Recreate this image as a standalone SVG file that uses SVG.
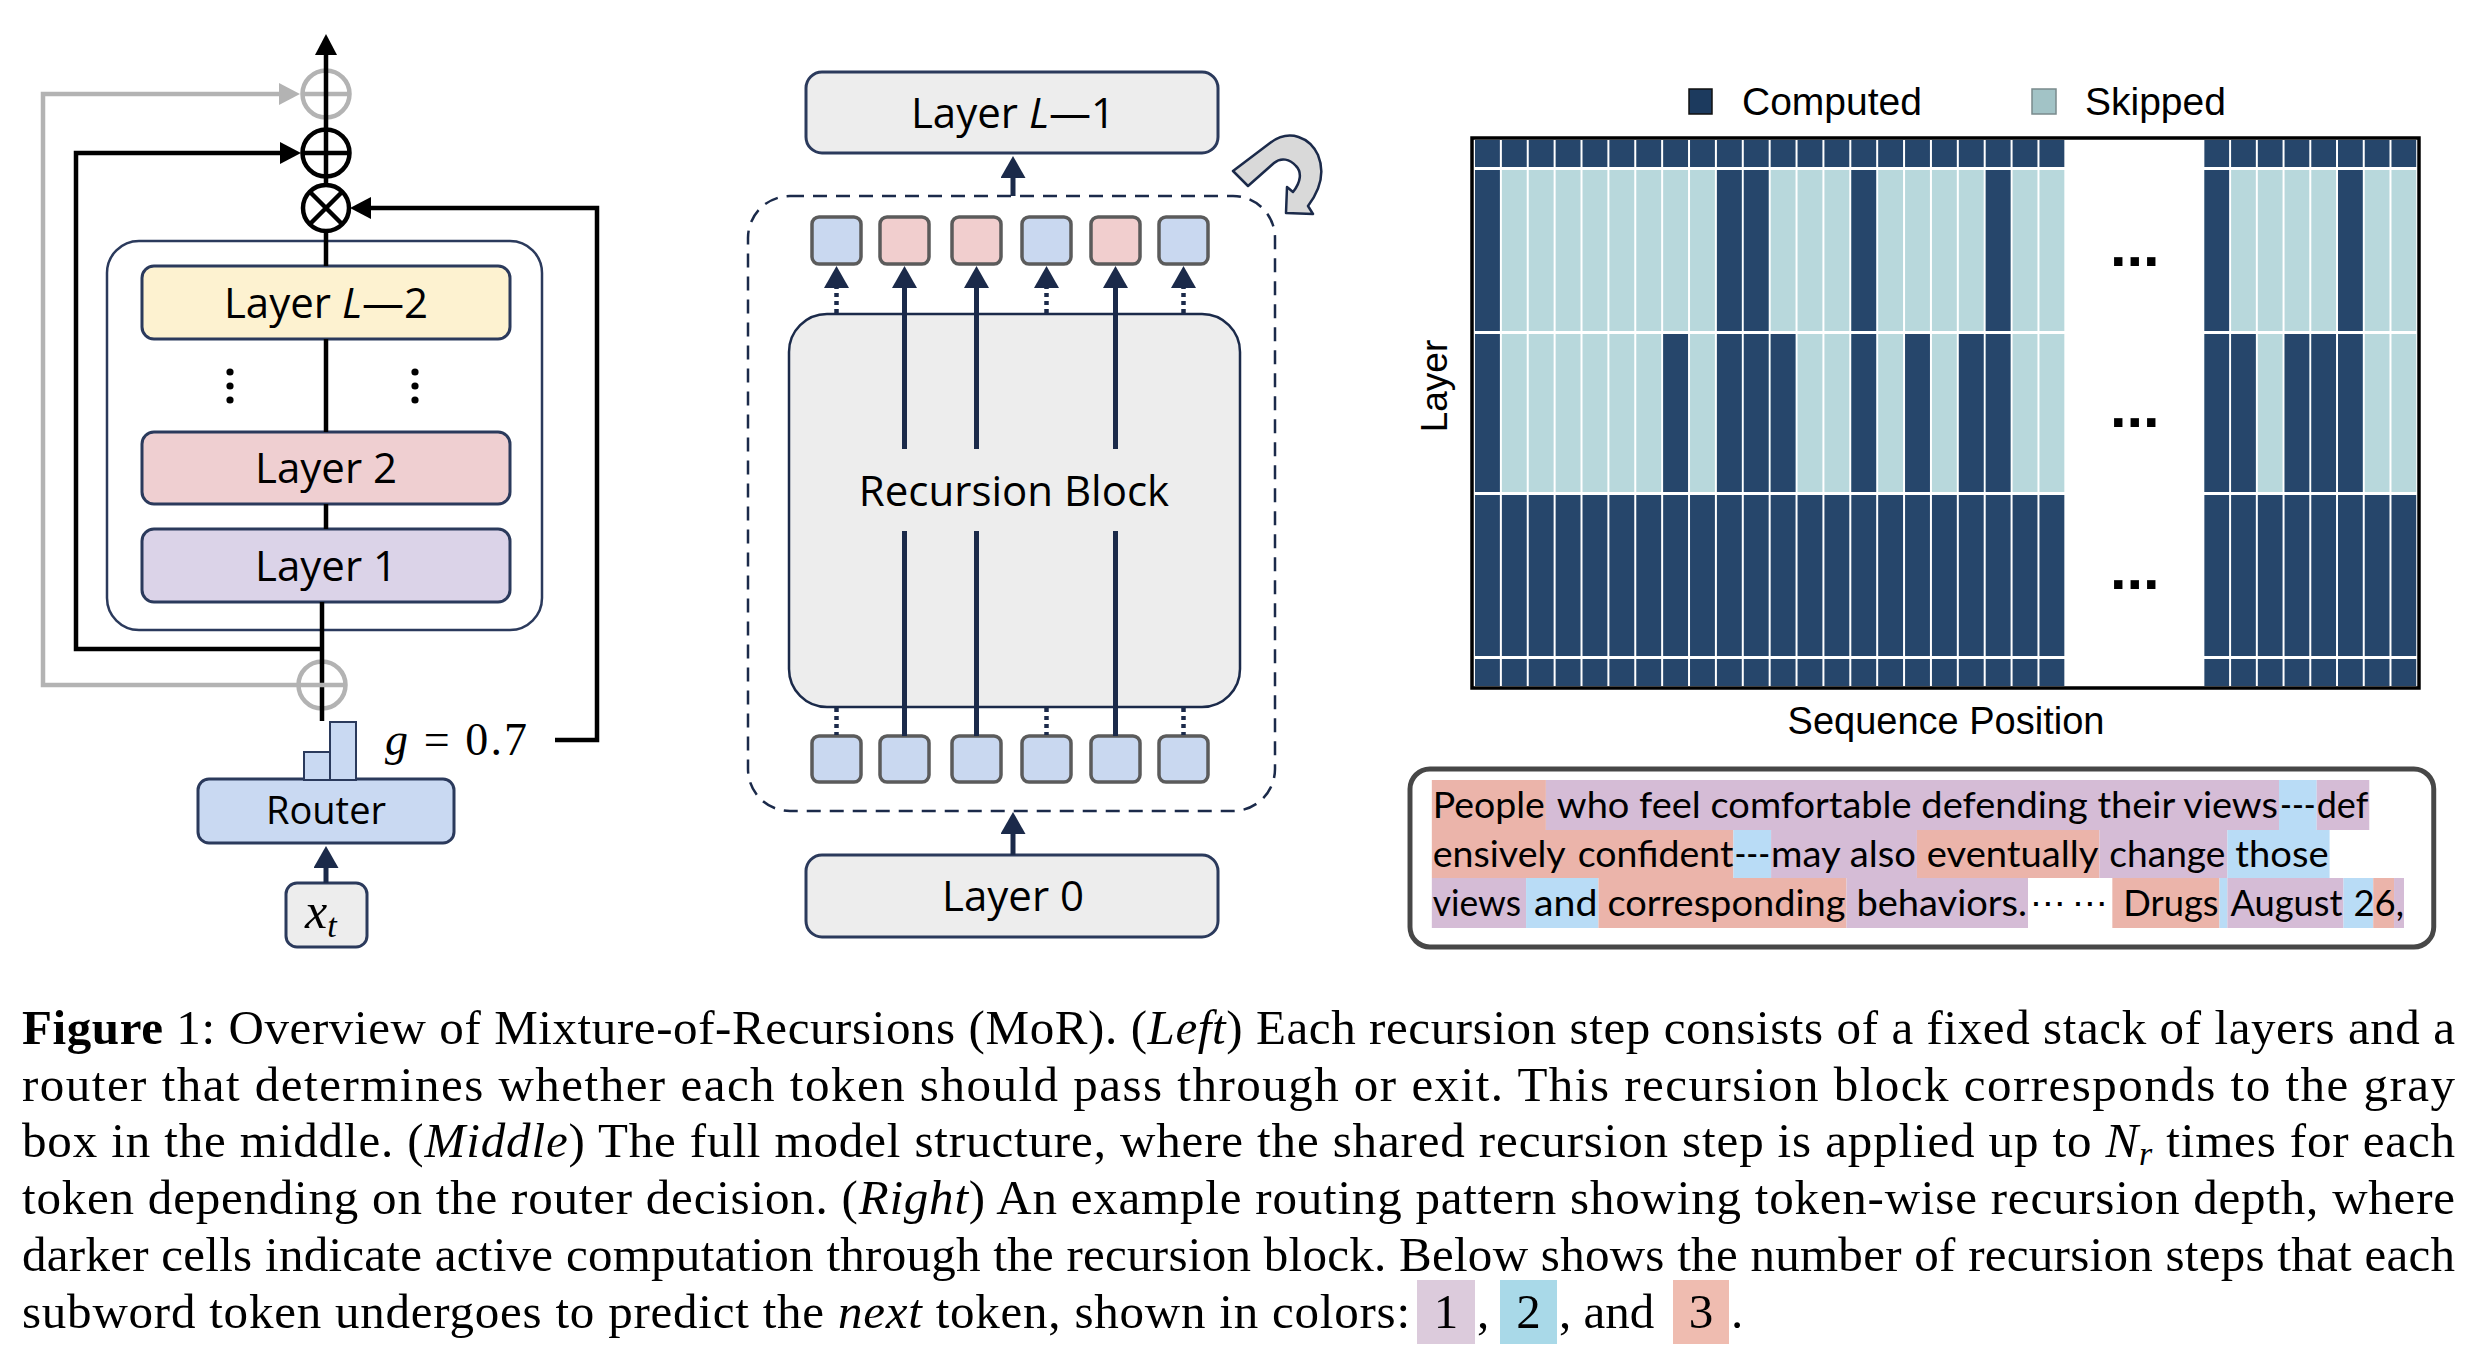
<svg xmlns="http://www.w3.org/2000/svg" width="2490" height="1372" viewBox="0 0 2490 1372">
<defs>
<style>
.lbl{font-family:"Open Sans","DejaVu Sans",sans-serif;font-size:42px;fill:#000;text-anchor:middle}
.math{font-family:"Liberation Serif","DejaVu Serif",serif;fill:#000}
.layer{stroke:#2b3a5c;stroke-width:3}
.blk{fill:none;stroke:#000;stroke-width:4.5}
.gry{fill:none;stroke:#b3b3b3;stroke-width:4.5}
.nav{fill:none;stroke:#1b2a4a;stroke-width:5}
.dot{fill:none;stroke:#1b2a4a;stroke-width:4.5;stroke-dasharray:4 4}
.tok{stroke:#5b5b5b;stroke-width:3.5}
.tb{fill:#c9d8f0}
.tp{fill:#f1cece}
.sans{font-family:"Liberation Sans",Arial,sans-serif;fill:#000}
.hp{fill:#ebb4aa}
.hv{fill:#d5bcd6}
.hb{fill:#b9dcf6}
.tx{font-family:Lato,"Open Sans",sans-serif;font-size:36px;fill:#000}
.cap{font-family:"Liberation Serif","Times New Roman",serif;font-size:49px;fill:#000}
.dk{fill:#26466b}
</style>
<marker id="mBlack" markerUnits="userSpaceOnUse" markerWidth="22" markerHeight="22" refX="9" refY="11" orient="auto"><path d="M0,0 L21,11 L0,22 Z" fill="#000"/></marker>
<marker id="mGray" markerUnits="userSpaceOnUse" markerWidth="22" markerHeight="22" refX="9" refY="11" orient="auto"><path d="M0,0 L21,11 L0,22 Z" fill="#b3b3b3"/></marker>
<marker id="mNavy" markerUnits="userSpaceOnUse" markerWidth="24" markerHeight="25" refX="10" refY="12.5" orient="auto"><path d="M0,0 L22,12.5 L0,25 Z" fill="#1b2a4a"/></marker>
<pattern id="pDL" patternUnits="userSpaceOnUse" x="1474" y="0" width="27.05" height="20"><rect x="1" y="0" width="25.05" height="20" fill="#26466b"/></pattern>
<pattern id="pLL" patternUnits="userSpaceOnUse" x="1474" y="0" width="27.05" height="20"><rect x="1" y="0" width="25.05" height="20" fill="#b8d8dc"/></pattern>
<pattern id="pDR" patternUnits="userSpaceOnUse" x="2208" y="0" width="26.9" height="20"><rect x="1" y="0" width="24.9" height="20" fill="#26466b"/></pattern>
<pattern id="pLR" patternUnits="userSpaceOnUse" x="2208" y="0" width="26.9" height="20"><rect x="1" y="0" width="24.9" height="20" fill="#b8d8dc"/></pattern>
</defs>
<rect width="2490" height="1372" fill="#fff"/>

<!-- LEFT PANEL -->
<g id="stack-frame"><rect x="107" y="241" width="435" height="389" rx="32" fill="#fff" stroke="#2b3a5c" stroke-width="2.5"/></g>
<g id="layer-L-2"><rect class="layer" x="142" y="266" width="368" height="73" rx="12" fill="#fdf2d0"/><text class="lbl" x="326" y="318">Layer <tspan font-style="italic">L</tspan>—2</text></g>
<g id="layer-dots"><circle cx="230" cy="372" r="3.6"/><circle cx="230" cy="386" r="3.6"/><circle cx="230" cy="400" r="3.6"/><circle cx="415" cy="372" r="3.6"/><circle cx="415" cy="386" r="3.6"/><circle cx="415" cy="400" r="3.6"/></g>
<g id="layer-2"><rect class="layer" x="142" y="432" width="368" height="72" rx="12" fill="#efcfd1"/><text class="lbl" x="326" y="483">Layer 2</text></g>
<g id="layer-1"><rect class="layer" x="142" y="529" width="368" height="73" rx="12" fill="#dbd3e8"/><text class="lbl" x="326" y="581">Layer 1</text></g>
<g id="router"><rect class="layer" x="198" y="779" width="256" height="64" rx="11" fill="#c9d9f2"/><text class="lbl" x="326" y="824" style="font-size:38px">Router</text></g>
<g id="gate-bars"><rect x="304" y="752" width="26" height="28" fill="#c9d9f2" stroke="#2b3a5c" stroke-width="2"/><rect x="330" y="722" width="26" height="58" fill="#c9d9f2" stroke="#2b3a5c" stroke-width="2"/></g>
<g id="gate-value"><text class="math" x="385" y="755" font-size="46" textLength="142" lengthAdjust="spacing"><tspan font-style="italic">g</tspan> = 0.7</text></g>
<g id="input-xt"><rect class="layer" x="286" y="883" width="81" height="64" rx="11" fill="#ededed"/><text class="math" x="305" y="928" font-size="50" font-style="italic">x<tspan font-size="34" dy="9">t</tspan></text></g>
<g id="add-top-gray"><circle cx="326" cy="94" r="23.5" fill="none" stroke="#b3b3b3" stroke-width="4.5"/><line x1="302" y1="94" x2="350" y2="94" stroke="#b3b3b3" stroke-width="4.5"/></g>
<g id="add-black"><circle cx="326" cy="153" r="23.5" fill="#fff" stroke="#000" stroke-width="4.5"/><line x1="302" y1="153" x2="350" y2="153" stroke="#000" stroke-width="4.5"/></g>
<g id="multiply"><circle cx="326" cy="208" r="23" fill="#fff" stroke="#000" stroke-width="4.5"/><path d="M310,192 L342,224 M342,192 L310,224" stroke="#000" stroke-width="4.5"/></g>
<g id="add-bottom-gray"><circle cx="322" cy="685" r="23.5" fill="none" stroke="#b3b3b3" stroke-width="4.5"/></g>

<!-- MIDDLE PANEL -->
<g id="layer-L-1"><rect class="layer" x="806" y="72" width="412" height="81" rx="16" fill="#ededed"/><text class="lbl" x="1013" y="128">Layer <tspan font-style="italic">L</tspan>—1</text></g>
<g id="recursion-frame"><rect x="748" y="196" width="527" height="615" rx="42" fill="none" stroke="#1b2a4a" stroke-width="2.5" stroke-dasharray="14 9"/></g>
<g id="recursion-block"><rect x="789" y="314" width="451" height="393" rx="38" fill="#ededed" stroke="#1b2a4a" stroke-width="2.5"/><text class="lbl" x="1014" y="506">Recursion Block</text></g>
<g id="layer-0"><rect class="layer" x="806" y="855" width="412" height="82" rx="16" fill="#ededed"/><text class="lbl" x="1013" y="911">Layer 0</text></g>
<g id="tokens-out">
<rect class="tok tb" x="812" y="217" width="49" height="47" rx="7"/>
<rect class="tok tp" x="880" y="217" width="49" height="47" rx="7"/>
<rect class="tok tp" x="952" y="217" width="49" height="47" rx="7"/>
<rect class="tok tb" x="1022" y="217" width="49" height="47" rx="7"/>
<rect class="tok tp" x="1091" y="217" width="49" height="47" rx="7"/>
<rect class="tok tb" x="1159" y="217" width="49" height="47" rx="7"/>
</g>
<g id="tokens-in">
<rect class="tok tb" x="812" y="736" width="49" height="46" rx="7"/>
<rect class="tok tb" x="880" y="736" width="49" height="46" rx="7"/>
<rect class="tok tb" x="952" y="736" width="49" height="46" rx="7"/>
<rect class="tok tb" x="1022" y="736" width="49" height="46" rx="7"/>
<rect class="tok tb" x="1091" y="736" width="49" height="46" rx="7"/>
<rect class="tok tb" x="1159" y="736" width="49" height="46" rx="7"/>
</g>

<!-- CONNECTORS -->
<g id="connectors">
<path class="blk" d="M326,185 V46" marker-end="url(#mBlack)"/>
<path class="blk" d="M326,231 V266 M326,339 V432 M326,504 V529"/>
<path class="blk" d="M322,602 V721"/>
<path class="blk" d="M322,649 H76 V153 H289" marker-end="url(#mBlack)"/>
<path class="gry" d="M346,685 H43 V94 H288" marker-end="url(#mGray)"/>
<path class="blk" d="M555,740 H597 V208 H362" marker-end="url(#mBlack)"/>
<path class="nav" d="M326,883 V858" stroke-width="4" marker-end="url(#mNavy)"/>
<path class="nav" d="M1013,196 V168" marker-end="url(#mNavy)"/>
<path class="nav" d="M1013,855 V824" marker-end="url(#mNavy)"/>
<path class="nav" d="M904.5,449 V278" marker-end="url(#mNavy)"/>
<path class="nav" d="M976.5,449 V278" marker-end="url(#mNavy)"/>
<path class="nav" d="M1115.5,449 V278" marker-end="url(#mNavy)"/>
<path class="nav" d="M904.5,736 V531 M976.5,736 V531 M1115.5,736 V531"/>
<path class="dot" d="M836.5,313 V278" marker-end="url(#mNavy)"/>
<path class="dot" d="M1046.5,313 V278" marker-end="url(#mNavy)"/>
<path class="dot" d="M1183.5,313 V278" marker-end="url(#mNavy)"/>
<path class="dot" d="M836.5,708 V735 M1046.5,708 V735 M1183.5,708 V735"/>
<path d="M1233,171 L1270,143 C1290,128 1310,138 1318,155 C1325,172 1320,190 1308,206 L1313,214 L1286,213 L1287,187 L1293,192 C1301,182 1302,172 1296,166 C1290,159 1281,157 1274,163 L1248,186 Z" fill="#d9d9d9" stroke="#1b2a4a" stroke-width="2.5" stroke-linejoin="round"/>
</g>

<!-- RIGHT PANEL -->
<g id="legend">
<rect x="1689" y="89" width="23" height="25" fill="#1c3a5e" stroke="#111" stroke-width="1.5"/>
<text class="sans" x="1742" y="115" font-size="39">Computed</text>
<rect x="2032" y="89" width="24" height="25" fill="#a2c3c6" stroke="#7a8a8c" stroke-width="1.5"/>
<text class="sans" x="2085" y="115" font-size="39">Skipped</text>
</g>
<g id="grid" transform="translate(1472,0) scale(0.9937,1) translate(-1472,0)">
<rect x="1472" y="138" width="953" height="550" fill="#fff" stroke="#000" stroke-width="3.5"/>
<rect x="1474" y="140" width="595" height="27" fill="url(#pDL)"/>
<rect x="1474" y="170" width="595" height="161" fill="url(#pLL)"/>
<rect x="1474" y="334" width="595" height="158" fill="url(#pLL)"/>
<rect x="1474" y="495" width="595" height="161" fill="url(#pDL)"/>
<rect x="1474" y="659" width="595" height="27" fill="url(#pDL)"/>
<rect x="2208" y="140" width="215" height="27" fill="url(#pDR)"/>
<rect x="2208" y="170" width="215" height="161" fill="url(#pLR)"/>
<rect x="2208" y="334" width="215" height="158" fill="url(#pLR)"/>
<rect x="2208" y="495" width="215" height="161" fill="url(#pDR)"/>
<rect x="2208" y="659" width="215" height="27" fill="url(#pDR)"/>
<g class="dk">
<rect x="1475" y="170" width="25.05" height="161"/>
<rect x="1718.45" y="170" width="25.05" height="161"/>
<rect x="1745.5" y="170" width="25.05" height="161"/>
<rect x="1853.7" y="170" width="25.05" height="161"/>
<rect x="1988.95" y="170" width="25.05" height="161"/>
<rect x="2209" y="170" width="24.9" height="161"/>
<rect x="2343.5" y="170" width="24.9" height="161"/>
<rect x="1475" y="334" width="25.05" height="158"/>
<rect x="1664.35" y="334" width="25.05" height="158"/>
<rect x="1718.45" y="334" width="25.05" height="158"/>
<rect x="1745.5" y="334" width="25.05" height="158"/>
<rect x="1772.55" y="334" width="25.05" height="158"/>
<rect x="1853.7" y="334" width="25.05" height="158"/>
<rect x="1907.8" y="334" width="25.05" height="158"/>
<rect x="1961.9" y="334" width="25.05" height="158"/>
<rect x="1988.95" y="334" width="25.05" height="158"/>
<rect x="2209" y="334" width="24.9" height="158"/>
<rect x="2235.9" y="334" width="24.9" height="158"/>
<rect x="2289.7" y="334" width="24.9" height="158"/>
<rect x="2316.6" y="334" width="24.9" height="158"/>
<rect x="2343.5" y="334" width="24.9" height="158"/>
</g>
<g class="sans" font-size="60" font-weight="bold" text-anchor="middle">
<text x="2139" y="266">...</text>
<text x="2139" y="427">...</text>
<text x="2139" y="589">...</text>
</g>
</g>
<g id="axis-labels">
<text class="sans" font-size="37" text-anchor="middle" transform="translate(1447,386) rotate(-90)">Layer</text>
<text class="sans" x="1946" y="734" font-size="38" text-anchor="middle">Sequence Position</text>
</g>

<g id="token-text" transform="translate(1410,0) scale(0.992,1) translate(-1410,0)">
<rect x="1410" y="769" width="1032" height="178" rx="20" fill="#fff" stroke="#474747" stroke-width="5"/>
<rect class="hp" x="1432" y="780" width="115" height="50"/>
<rect class="hv" x="1547" y="780" width="739" height="50"/>
<rect class="hb" x="2286" y="780" width="38" height="50"/>
<rect class="hv" x="2324" y="780" width="53" height="50"/>
<rect class="hp" x="1432" y="830" width="304" height="48"/>
<rect class="hb" x="1736" y="830" width="38" height="48"/>
<rect class="hv" x="1774" y="830" width="147" height="48"/>
<rect class="hp" x="1921" y="830" width="184" height="48"/>
<rect class="hv" x="2105" y="830" width="129" height="48"/>
<rect class="hb" x="2234" y="830" width="103" height="48"/>
<rect class="hv" x="1432" y="878" width="95" height="50"/>
<rect class="hb" x="1527" y="878" width="73" height="50"/>
<rect class="hp" x="1600" y="878" width="250" height="50"/>
<rect class="hv" x="1850" y="878" width="183" height="50"/>
<rect class="hp" x="2118" y="878" width="108" height="50"/>
<rect class="hb" x="2226" y="878" width="8" height="50"/>
<rect class="hv" x="2234" y="878" width="117" height="50"/>
<rect class="hb" x="2351" y="878" width="30" height="50"/>
<rect class="hp" x="2381" y="878" width="21" height="50"/>
<rect class="hv" x="2402" y="878" width="10" height="50"/>
<g class="tx">
<text x="1433" y="818" textLength="113" lengthAdjust="spacingAndGlyphs">People</text>
<text x="1558" y="818" textLength="727" lengthAdjust="spacingAndGlyphs">who feel comfortable defending their views</text>
<text x="2287" y="818" textLength="36" lengthAdjust="spacingAndGlyphs">---</text>
<text x="2324" y="818" textLength="52" lengthAdjust="spacingAndGlyphs">def</text>
<text x="1433" y="867" textLength="134" lengthAdjust="spacingAndGlyphs">ensively</text>
<text x="1579" y="867" textLength="157" lengthAdjust="spacingAndGlyphs">confident</text>
<text x="1737" y="867" textLength="36" lengthAdjust="spacingAndGlyphs">---</text>
<text x="1774" y="867" textLength="146" lengthAdjust="spacingAndGlyphs">may also</text>
<text x="1931" y="867" textLength="173" lengthAdjust="spacingAndGlyphs">eventually</text>
<text x="2115" y="867" textLength="117" lengthAdjust="spacingAndGlyphs">change</text>
<text x="2242" y="867" textLength="94" lengthAdjust="spacingAndGlyphs">those</text>
<text x="1433" y="916" textLength="89" lengthAdjust="spacingAndGlyphs">views</text>
<text x="1535" y="916" textLength="64" lengthAdjust="spacingAndGlyphs">and</text>
<text x="1609" y="916" textLength="240" lengthAdjust="spacingAndGlyphs">corresponding</text>
<text x="1860" y="916" textLength="172" lengthAdjust="spacingAndGlyphs">behaviors.</text>
<text x="2035" y="916" textLength="78" lengthAdjust="spacing">⋯ ⋯</text>
<text x="2129" y="916" textLength="96" lengthAdjust="spacingAndGlyphs">Drugs</text>
<text x="2237" y="916" textLength="113" lengthAdjust="spacingAndGlyphs">August</text>
<text x="2361" y="916" textLength="51" lengthAdjust="spacingAndGlyphs">26,</text>
</g>
</g>

<g id="caption" class="cap">
<text x="22" y="1044" textLength="2433" lengthAdjust="spacing"><tspan font-weight="bold">Figure</tspan> 1: Overview of Mixture-of-Recursions (MoR). (<tspan font-style="italic">Left</tspan>) Each recursion step consists of a fixed stack of layers and a</text>
<text x="22" y="1101" textLength="2433" lengthAdjust="spacing">router that determines whether each token should pass through or exit.  This recursion block corresponds to the gray</text>
<text x="22" y="1157" textLength="2433" lengthAdjust="spacing">box in the middle. (<tspan font-style="italic">Middle</tspan>) The full model structure, where the shared recursion step is applied up to <tspan font-style="italic">N</tspan><tspan font-style="italic" font-size="34" dy="8">r</tspan><tspan dy="-8"> times for each</tspan></text>
<text x="22" y="1214" textLength="2433" lengthAdjust="spacing">token depending on the router decision. (<tspan font-style="italic">Right</tspan>) An example routing pattern showing token-wise recursion depth, where</text>
<text x="22" y="1271" textLength="2433" lengthAdjust="spacing">darker cells indicate active computation through the recursion block. Below shows the number of recursion steps that each</text>
<text x="22" y="1328" textLength="1388" lengthAdjust="spacing">subword token undergoes to predict the <tspan font-style="italic">next</tspan> token, shown in colors:</text>
<rect x="1417" y="1280" width="58" height="64" fill="#dccbdc"/>
<rect x="1500" y="1280" width="57" height="64" fill="#a9d9e8"/>
<rect x="1673" y="1280" width="56" height="64" fill="#efbcb0"/>
<text x="1446" y="1328" text-anchor="middle">1</text>
<text x="1477" y="1328">,</text>
<text x="1528.5" y="1328" text-anchor="middle">2</text>
<text x="1559" y="1328">, and</text>
<text x="1701" y="1328" text-anchor="middle">3</text>
<text x="1731" y="1328">.</text>
</g>
</svg>
